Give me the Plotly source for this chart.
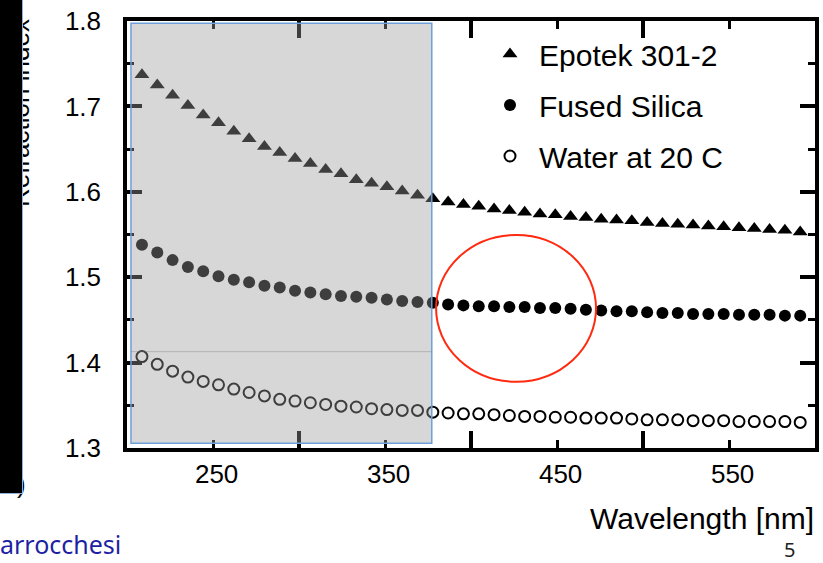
import plotly.graph_objects as go

# ---- data ----
wavelength = [208.7, 217.6, 226.5, 235.4, 244.3, 253.2, 262.1, 271.0, 279.9, 288.8,
              297.7, 306.6, 315.5, 324.4, 333.3, 342.2, 351.1, 360.0, 368.9, 377.8,
              386.7, 395.6, 404.5, 413.4, 422.3, 431.2, 440.1, 449.0, 457.9, 466.8,
              475.7, 484.6, 493.5, 502.4, 511.3, 520.2, 529.1, 538.0, 546.9, 555.8,
              564.7, 573.6, 582.5, 591.4]

epotek = [1.737, 1.725, 1.713, 1.701, 1.690, 1.681, 1.671, 1.662, 1.653, 1.646,
          1.639, 1.633, 1.626, 1.621, 1.614, 1.610, 1.606, 1.601, 1.596, 1.592,
          1.588, 1.585, 1.583, 1.580, 1.578, 1.576, 1.574, 1.573, 1.571, 1.570,
          1.568, 1.567, 1.566, 1.564, 1.563, 1.562, 1.561, 1.560, 1.559, 1.558,
          1.557, 1.556, 1.555, 1.553]

fused_silica = [1.538, 1.529, 1.520, 1.512, 1.507, 1.501, 1.497, 1.494, 1.490, 1.488,
                1.484, 1.482, 1.480, 1.478, 1.477, 1.476, 1.474, 1.472, 1.471, 1.470,
                1.468, 1.467, 1.466, 1.466, 1.465, 1.465, 1.464, 1.464, 1.463, 1.462,
                1.461, 1.460, 1.460, 1.459, 1.458, 1.458, 1.457, 1.457, 1.457, 1.456,
                1.456, 1.456, 1.455, 1.455]

water = [1.407, 1.398, 1.390, 1.383, 1.378, 1.374, 1.369, 1.365, 1.361, 1.357,
         1.355, 1.353, 1.351, 1.349, 1.348, 1.346, 1.345, 1.344, 1.344, 1.342,
         1.341, 1.340, 1.340, 1.339, 1.338, 1.337, 1.337, 1.336, 1.336, 1.335,
         1.335, 1.335, 1.334, 1.333, 1.333, 1.333, 1.332, 1.332, 1.332, 1.331,
         1.331, 1.331, 1.331, 1.330]

series_names = ["Epotek 301-2", "Fused Silica", "Water at 20 C"]
x_labelled_ticks = [250, 350, 450, 550]
x_tick_text = ["\u00a0250", "\u00a0350", "\u00a0450", "\u00a0550"]
x_long_ticks = [300, 400, 500]
y_major_ticks = [1.3, 1.4, 1.5, 1.6, 1.7, 1.8]
y_minor_ticks = [1.35, 1.45, 1.55, 1.65, 1.75]
x_range = [200, 600]
y_range = [1.3, 1.8]

FONT = "Liberation Sans, Arial, Helvetica, sans-serif"

# plot area in pixels (for placing page decorations)
L, R, T, B = 127, 815, 21, 448
def px(xp):
    return (xp - L) / (R - L)
def py(yp):
    return (B - yp) / (B - T)

fig = go.Figure()
fig.add_trace(go.Scatter(x=wavelength, y=epotek, mode="markers", name=series_names[0],
                         legendgroup="a",
                         marker=dict(symbol="triangle-up", size=13, color="black",
                                     line=dict(width=0))))
fig.add_trace(go.Scatter(x=wavelength, y=fused_silica, mode="markers", name=series_names[1],
                         legendgroup="b",
                         marker=dict(symbol="circle", size=12, color="black",
                                     line=dict(width=0))))
fig.add_trace(go.Scatter(x=wavelength, y=water, mode="markers", name=series_names[2],
                         legendgroup="c",
                         marker=dict(symbol="circle-open", size=11, color="black",
                                     line=dict(width=2, color="black"))))

# empty helper traces so the tick-only overlay axes get drawn
for xa, ya in [("x2", "y"), ("x3", "y"), ("x", "y2"), ("x", "y3")]:
    fig.add_trace(go.Scatter(x=[], y=[], xaxis=xa, yaxis=ya, mode="markers",
                             showlegend=False, hoverinfo="skip"))

fig.update_layout(
    width=823, height=563,
    margin=dict(l=L, r=823 - R, t=T, b=563 - B, autoexpand=False),
    paper_bgcolor="white", plot_bgcolor="white",
    font=dict(family=FONT, color="black"),
    showlegend=True,
    legend=dict(x=px(481), y=py(28), xanchor="left", yanchor="top",
                font=dict(family=FONT, size=30, color="black"),
                bgcolor="rgba(0,0,0,0)", borderwidth=0, itemwidth=48,
                traceorder="grouped", tracegroupgap=9),
)

common = dict(showgrid=False, zeroline=False, automargin=False)

fig.update_layout(
    # main axes: frame + tick labels
    xaxis=dict(range=x_range, showline=True, linewidth=3.5, linecolor="black", mirror=True,
               ticks="", tickmode="array", tickvals=x_labelled_ticks, ticktext=x_tick_text,
               tickfont=dict(family=FONT, size=26, color="black"), **common),
    yaxis=dict(range=y_range, showline=True, linewidth=3.5, linecolor="black", mirror=True,
               ticks="outside", ticklen=17, tickcolor="rgba(0,0,0,0)",
               tickmode="array", tickvals=y_major_ticks, tickformat=".1f",
               tickfont=dict(family=FONT, size=26, color="black"), **common),
    # inside tick marks, mirrored on the opposite side
    xaxis2=dict(overlaying="x", anchor="y", side="bottom", range=x_range,
                showline=True, linewidth=3.5, linecolor="black", mirror="allticks",
                ticks="inside", ticklen=8, tickwidth=3, tickcolor="black",
                tickmode="array", tickvals=x_labelled_ticks, showticklabels=False, **common),
    xaxis3=dict(overlaying="x", anchor="y", side="bottom", range=x_range,
                showline=True, linewidth=3.5, linecolor="black", mirror="allticks",
                ticks="inside", ticklen=17, tickwidth=3.5, tickcolor="black",
                tickmode="array", tickvals=x_long_ticks, showticklabels=False, **common),
    yaxis2=dict(overlaying="y", anchor="x", side="left", range=y_range,
                showline=True, linewidth=3.5, linecolor="black", mirror="allticks",
                ticks="inside", ticklen=15, tickwidth=3.5, tickcolor="black",
                tickmode="array", tickvals=y_major_ticks, showticklabels=False, **common),
    yaxis3=dict(overlaying="y", anchor="x", side="left", range=y_range,
                showline=True, linewidth=3.5, linecolor="black", mirror="allticks",
                ticks="inside", ticklen=7, tickwidth=3, tickcolor="black",
                tickmode="array", tickvals=y_minor_ticks, showticklabels=False, **common),
)

# grey textured overlay box and red highlight ellipse
fig.add_shape(type="rect", xref="x", yref="y", x0=202.3, x1=377.2, y0=1.3055, y1=1.7973,
              fillcolor="rgba(154,154,154,0.40)", line=dict(color="#6f9fd8", width=1.5),
              layer="above")
fig.add_shape(type="line", xref="x", yref="y", x0=202.3, x1=377.2, y0=1.4128, y1=1.4128,
              line=dict(color="rgba(110,110,110,0.35)", width=1), layer="above")
fig.add_shape(type="circle", xref="x", yref="y", x0=379.7, x1=472.7, y0=1.3776, y1=1.5494,
              line=dict(color="#ff2a10", width=2), layer="above")

annotations = [
    dict(text="Refraction index", x=px(20), y=py(113), xref="paper", yref="paper",
         textangle=-90, showarrow=False, xanchor="center", yanchor="middle",
         font=dict(family=FONT, size=26, color="black")),
    dict(text=")", x=px(21), y=py(484), xref="paper", yref="paper",
         showarrow=False, xanchor="center", yanchor="middle",
         font=dict(family=FONT, size=26, color="black")),
    dict(text=" ", x=px(10), y=py(245), xref="paper", yref="paper",
         showarrow=False, xanchor="center", yanchor="middle",
         width=24, height=496, bgcolor="black", bordercolor="#8fb3de",
         borderwidth=1, borderpad=0, font=dict(size=10, color="black")),
    dict(text="Wavelength [nm]", x=px(816), y=py(518), xref="paper", yref="paper",
         showarrow=False, xanchor="right", yanchor="middle",
         font=dict(family=FONT, size=30, color="black")),
    dict(text="arrocchesi", x=px(123), y=py(544), xref="paper", yref="paper",
         showarrow=False, xanchor="right", yanchor="middle",
         font=dict(family="Noto Sans, Open Sans, sans-serif", size=25, color="#1f1fa3")),
    dict(text="5", x=px(789), y=py(549), xref="paper", yref="paper",
         showarrow=False, xanchor="center", yanchor="middle",
         font=dict(family="Noto Sans, sans-serif", size=20, color="#222222")),
]
fig.update_layout(annotations=annotations)

fig.write_html("out.html",
               config={"displayModeBar": False},
               post_script="document.body.style.margin='0';document.body.style.padding='0';")
